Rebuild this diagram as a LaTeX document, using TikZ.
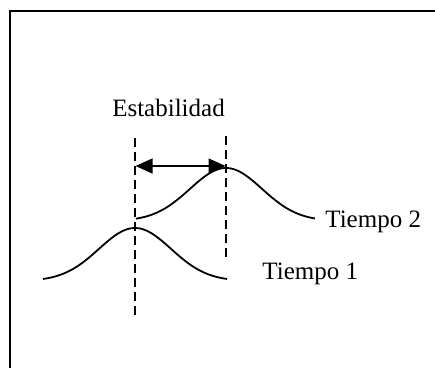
\documentclass[tikz,border=0pt]{standalone}
\usepackage{fontspec}
\setmainfont{Liberation Serif}
\usetikzlibrary{arrows.meta}
\begin{document}
\begin{tikzpicture}[x=0.5pt,y=-0.5pt,
  frameline/.style={line width=1.4pt},
  curve/.style={line width=0.9pt},
  guide/.style={line width=0.85pt, dash pattern=on 4.5pt off 2.5pt},
  span/.style={line width=0.7pt, {Triangle[length=8.5pt,width=7.5pt]}-{Triangle[length=8.5pt,width=7.5pt]}},
  lbl/.style={font=\fontsize{12.5}{14}\selectfont, inner sep=0pt}]
\useasboundingbox (0,0) rectangle (435,368);
\fill[white] (0,0) rectangle (435,368);
% frame
\draw[frameline] (10,368) -- (10,11) -- (435,11);
% curves
\draw[curve] plot[domain=-92:92, samples=80, smooth] ({135+\x}, {281-53*exp(-(\x*\x)/(2*36*36))});
\draw[curve] plot[domain=-90:89, samples=80, smooth] ({226+\x}, {221-53*exp(-(\x*\x)/(2*36*36))});
% guides
\coordinate (g1t) at (135,138);
\coordinate (g1b) at (135,317);
\coordinate (g2t) at (226,136);
\coordinate (g2b) at (226,257);
\draw[guide] (g1t) -- (g1b);
\draw[guide] (g2t) -- (g2b);
% span arrow
\coordinate (a1) at (135.5,166);
\coordinate (a2) at (225.5,166);
\draw[span] (a1) -- (a2);
% labels
\node[lbl] (est) at (168.5,108) {Estabilidad};
\node[lbl, anchor=base west] (t2) at (325,228) {Tiempo 2};
\node[lbl, anchor=base west] (t1) at (262,280) {Tiempo 1};
\end{tikzpicture}
\end{document}
